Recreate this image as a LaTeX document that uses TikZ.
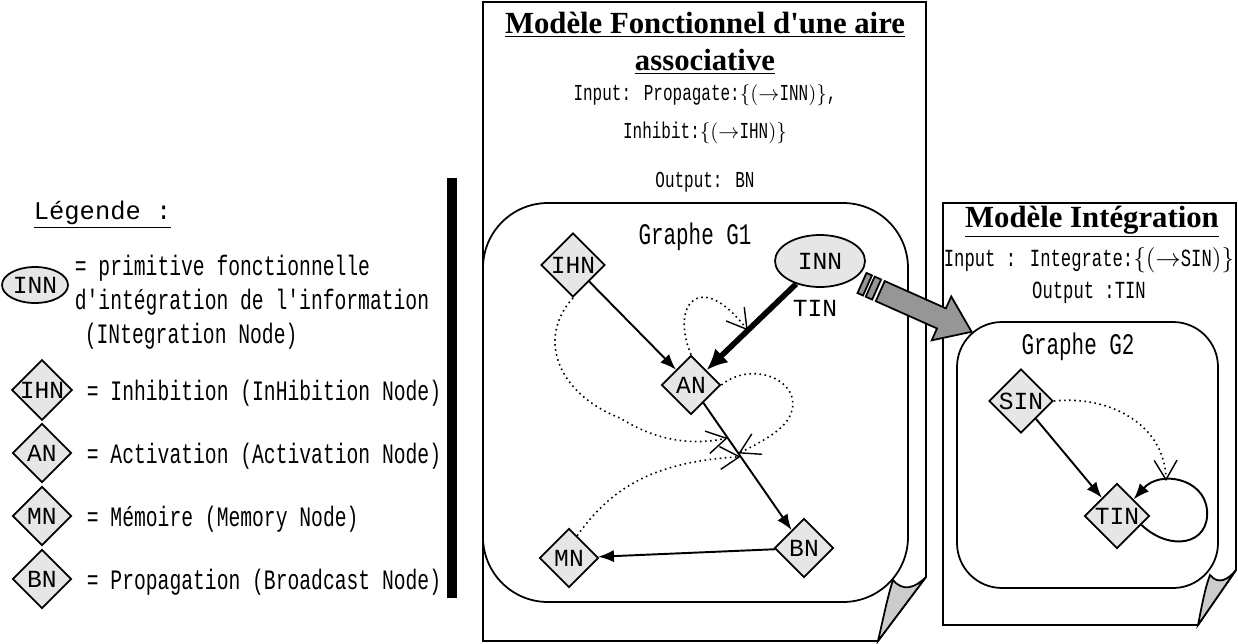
\documentclass[tikz,border=0pt]{standalone}
\usepackage{fontspec}
\newfontfamily\legfont[FakeStretch=0.7]{Liberation Mono}
\newfontfamily\nodefont{Liberation Mono}
\newfontfamily\titlefont{Liberation Serif}
\usetikzlibrary{shapes.geometric,arrows.meta,calc}
\definecolor{nodegray}{RGB}{230,230,230}
\definecolor{foldgray}{RGB}{204,204,204}
\definecolor{arrowgray}{RGB}{150,150,150}

\begin{document}
\begin{tikzpicture}[x=0.02cm, y=-0.02cm, line width=1pt,
                diam/.style={diamond, draw, fill=nodegray, inner sep=0pt, minimum width=1.18cm, minimum height=1.18cm, font=\nodefont\fontsize{14}{16}\selectfont},
                ell/.style={ellipse, draw, fill=nodegray, inner sep=0pt, font=\nodefont\fontsize{14}{16}\selectfont},
                legtxt/.style={anchor=west, inner sep=0pt, font=\legfont\fontsize{16}{18}\selectfont},
                boxtxt/.style={inner sep=0pt, font=\legfont\fontsize{13}{15}\selectfont},
                bigtxt/.style={inner sep=0pt, font=\legfont\fontsize{14}{16}\selectfont},
                graphtxt/.style={inner sep=0pt, font=\legfont\fontsize{17}{19}\selectfont},
                titletxt/.style={inner sep=0pt, font=\titlefont\bfseries\fontsize{17.5}{20}\selectfont},
                edge_style/.style={draw=black, line width=1.1pt, -{Latex[length=9pt,width=7pt]}},
                thick_edge/.style={draw=black, line width=3.2pt, -{Latex[length=12pt,width=11pt]}},
                mod_edge/.style={draw=black, line width=0.9pt, dotted, -{Straight Barb[length=11pt,width=13pt,line width=0.8pt]}}]
                \useasboundingbox (0,0) rectangle (1238,643);

                % legende
                \node[anchor=west, inner sep=0pt, font=\nodefont\fontsize{14.5}{16}\selectfont] (legtitle) at (33,215) {\underline{Légende :}};
                \node[ell, minimum width=1.32cm, minimum height=0.72cm] (lINN) at (35,285) {INN};
                \node[legtxt] (lINNa) at (74,268) {= primitive fonctionnelle};
                \node[legtxt] (lINNb) at (74,302) {d'intégration de l'information};
                \node[legtxt] (lINNc) at (84,336) {(INtegration Node)};
                \node[diam] (lIHN) at (42,390) {IHN};
                \node[legtxt] (lIHNt) at (86,393) {= Inhibition (InHibition Node)};
                \node[diam] (lAN) at (42,453) {AN};
                \node[legtxt] (lANt) at (86,456) {= Activation (Activation Node)};
                \node[diam] (lMN) at (42,516) {MN};
                \node[legtxt] (lMNt) at (86,519) {= Mémoire (Memory Node)};
                \node[diam] (lBN) at (42,579) {BN};
                \node[legtxt] (lBNt) at (86,582) {= Propagation (Broadcast Node)};
                \draw[line width=5.5pt] (452,178) -- (452,598);

                % aire associative
                \draw (483,2) -- (926,2) -- (926,577) -- (878,641) -- (483,641) -- cycle;
                \node[titletxt] (title1) at (705,25) {\underline{Modèle Fonctionnel d'une aire}};
                \node[titletxt] (title2) at (705,62) {\underline{associative}};
                \node[boxtxt] (in1) at (705,95) {Input: Propagate:$\{(\rightarrow$INN$)\}$,};
                \node[boxtxt] (in2) at (705,133) {Inhibit:$\{(\rightarrow$IHN$)\}$};
                \node[boxtxt] (out1) at (705,182) {Output: BN};
                \draw[rounded corners=1.3cm] (483,203) rectangle (908,602);
                \filldraw[fill=foldgray] (878,641) .. controls (884,615) and (888,595) .. (893,580) .. controls (903,592) and (915,588) .. (926,577) -- cycle;
                \node[graphtxt] (G1lbl) at (695,237) {Graphe G1};

                \node[diam, minimum width=1.28cm, minimum height=1.28cm] (IHN) at (573,265) {IHN};
                \node[ell, minimum width=1.8cm, minimum height=1.04cm] (INN) at (820,261) {INN};
                \node[diam] (AN) at (691,385) {AN};
                \node[diam] (BN) at (804,548) {BN};
                \node[diam] (MN) at (569,558) {MN};
                \node[inner sep=0pt, font=\nodefont\fontsize{14}{16}\selectfont] (TINlbl) at (815,308) {TIN};

                \draw[edge_style] (IHN) -- (AN);
                \draw[thick_edge] (INN) -- (AN);
                \draw[edge_style] (AN) -- (BN);
                \draw[edge_style] (BN) -- (MN);

                \coordinate (onINN) at ($(INN)!0.56!(AN)$);
                \coordinate (onAN1) at ($(AN)!0.325!(BN)$);
                \coordinate (onAN2) at ($(AN)!0.42!(BN)$);
                \coordinate (onAN3) at ($(AN)!0.44!(BN)$);
                \draw[mod_edge] (AN.north) .. controls (670,305) and (700,268) .. (onINN);
                \draw[mod_edge] (IHN.south) .. controls (535,340) and (560,395) .. (620,418) .. controls (655,440) and (690,446) .. (onAN1);
                \draw[mod_edge] (AN.east) .. controls (752,360) and (800,380) .. (792,410) .. controls (788,428) and (765,440) .. (onAN2);
                \draw[mod_edge] (MN.70) .. controls (610,490) and (650,462) .. (onAN3);

                % integration
                \draw (943,203) -- (1236,203) -- (1236,570) -- (1198,625) -- (943,625) -- cycle;
                \node[titletxt] (title3) at (1092,222) {\underline{Modèle Intégration}};
                \node[bigtxt] (in3) at (1089,260) {Input : Integrate:$\{(\rightarrow$SIN$)\}$};
                \node[bigtxt] (out2) at (1089,293) {Output :TIN};
                \draw[rounded corners=0.9cm] (957,322) rectangle (1218,588);
                \filldraw[fill=foldgray] (1198,625) .. controls (1202,605) and (1205,588) .. (1210,575) .. controls (1218,585) and (1228,580) .. (1236,570) -- cycle;
                \node[graphtxt] (G2lbl) at (1078,347) {Graphe G2};

                \node[diam, minimum width=1.28cm, minimum height=1.28cm] (SIN) at (1021,401) {SIN};
                \node[diam, minimum width=1.3cm, minimum height=1.3cm] (TIN) at (1117,516) {TIN};
                \draw[edge_style] (SIN) -- (TIN);
                \draw[edge_style] (TIN.-20) .. controls (1170,552) and (1210,545) .. (1207,510) .. controls (1204,478) and (1160,470) .. (TIN.north east);
                \coordinate (loopTop) at (1166,481);
                \draw[mod_edge] (SIN.east) .. controls (1110,395) and (1165,425) .. (loopTop);

                % fleche G1 -> G2
                \begin{scope}[shift={(862,283)}, rotate=-24]
                \filldraw[fill=arrowgray] (0,-11) rectangle (6,11);
                \filldraw[fill=arrowgray] (9,-11) rectangle (16,11);
                \filldraw[fill=arrowgray] (20,-11) -- (87,-11) -- (87,-24) -- (120,0) -- (87,24) -- (87,11) -- (20,11) -- cycle;
                \end{scope}
            \end{tikzpicture}
\end{document}
